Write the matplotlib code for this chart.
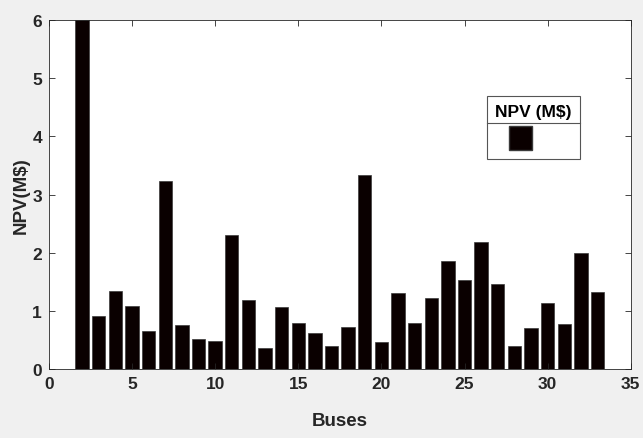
import matplotlib
matplotlib.use('Agg')
import matplotlib.pyplot as plt
from matplotlib.patches import Patch
from matplotlib import font_manager

# Bus numbers and NPV values (M$)
buses = list(range(2, 34))
npv = [6.0, 0.92, 1.34, 1.09, 0.65, 3.23, 0.76, 0.51, 0.49, 2.30,
       1.18, 0.37, 1.06, 0.79, 0.62, 0.39, 0.72, 3.33, 0.47, 1.31,
       0.79, 1.22, 1.85, 1.53, 2.18, 1.46, 0.40, 0.70, 1.13, 0.77,
       2.00, 1.33]
xticks = [0, 5, 10, 15, 20, 25, 30, 35]
yticks = [0, 1, 2, 3, 4, 5, 6]

names = {f.name for f in font_manager.fontManager.ttflist}
fam = 'Liberation Sans Narrow' if 'Liberation Sans Narrow' in names else 'Liberation Sans'
plt.rcParams['font.family'] = [fam, 'DejaVu Sans']

fig = plt.figure(figsize=(6.43, 4.39), dpi=100, facecolor='#f0f0f0')
ax = fig.add_axes([0.076, 0.157, 0.905, 0.795])
ax.set_facecolor('white')

bar_color = '#0a0000'
ax.bar(buses, npv, width=0.8, color=bar_color, edgecolor='#3a3a3a', linewidth=0.5)

ax.set_xlim(0, 35)
ax.set_ylim(0, 6)
ax.set_xticks(xticks)
ax.set_yticks(yticks)
ax.tick_params(direction='in', top=True, right=True, length=4, width=0.6,
               colors='#262626', labelsize=12.5, pad=5)
for lab in ax.get_xticklabels() + ax.get_yticklabels():
    lab.set_fontweight('bold')
for s in ax.spines.values():
    s.set_color('#262626')
    s.set_linewidth(0.6)

ax.set_xlabel('Buses', fontsize=13.5, fontweight='bold', color='#262626', labelpad=15)
ax.set_ylabel('NPV(M$)', fontsize=13.5, fontweight='bold', color='#262626', labelpad=2)

handle = Patch(facecolor=bar_color, edgecolor='#3a3a3a')
leg = ax.legend([handle], [' '], title='NPV (M$)', loc='upper left',
                bbox_to_anchor=(487 / 643, 1 - 97 / 439), bbox_transform=fig.transFigure,
                borderaxespad=0, fancybox=False, edgecolor='#555555', framealpha=1,
                handlelength=1.6, handleheight=2.3, handletextpad=1.6,
                borderpad=0.6, title_fontproperties={'weight': 'bold', 'size': 12.5})
leg.get_frame().set_linewidth(0.8)

# separator line between legend title and entry
fig.canvas.draw()
bb = leg.get_window_extent()
tb = leg.get_title().get_window_extent()
inv = fig.transFigure.inverted()
(x0, y0), (x1, y1) = inv.transform([(bb.x0, tb.y0 - 4), (bb.x1, tb.y0 - 4)])
fig.add_artist(plt.Line2D([x0, x1], [y0, y1], color='#555555', linewidth=0.8,
                          transform=fig.transFigure))

fig.savefig('out.png', dpi=100, facecolor=fig.get_facecolor())
